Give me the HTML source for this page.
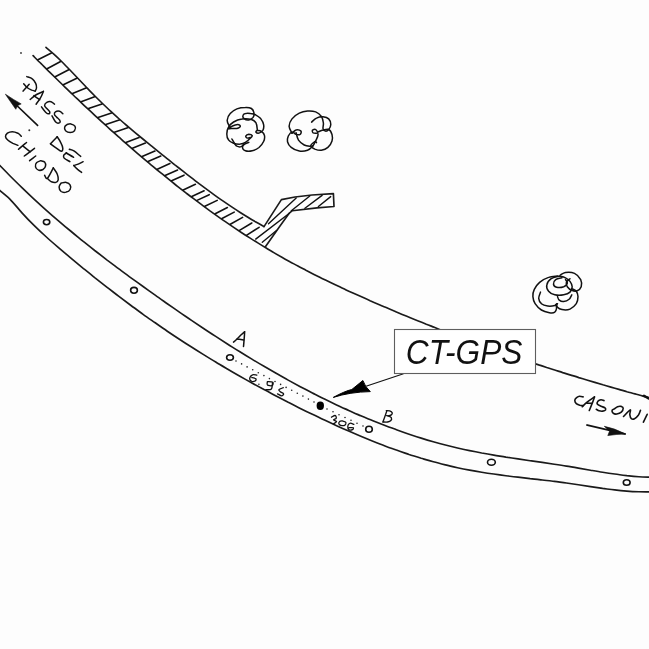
<!DOCTYPE html>
<html><head><meta charset="utf-8"><style>
html,body{margin:0;padding:0;background:#fdfdfd;}
svg{display:block;filter:grayscale(1);}
</style></head><body>
<svg width="649" height="649" viewBox="0 0 649 649">
<rect width="649" height="649" fill="#fdfdfd"/>
<path d="M-2.0,163.5 C0.0,165.6 6.1,171.9 10.1,176.0 C14.1,180.0 18.2,184.0 22.2,187.9 C26.2,191.8 30.2,195.6 34.3,199.3 C38.3,203.0 42.3,206.7 46.4,210.3 C50.4,213.9 54.4,217.4 58.5,220.8 C62.5,224.3 66.5,227.7 70.6,231.0 C74.6,234.4 78.6,237.6 82.6,240.9 C86.7,244.1 90.7,247.3 94.7,250.5 C98.8,253.6 102.8,256.7 106.8,259.8 C110.9,262.8 114.9,265.9 118.9,268.9 C123.0,271.9 127.0,274.8 131.0,277.8 C135.0,280.7 139.1,283.6 143.1,286.5 C147.1,289.4 151.2,292.3 155.2,295.2 C159.2,298.1 163.3,300.9 167.3,303.7 C171.3,306.5 175.4,309.3 179.4,312.1 C183.4,314.9 187.5,317.6 191.5,320.4 C195.5,323.1 199.5,325.8 203.6,328.5 C207.6,331.1 211.6,333.8 215.7,336.4 C219.7,339.0 223.7,341.6 227.8,344.2 C231.8,346.7 235.8,349.3 239.9,351.8 C243.9,354.2 247.9,356.7 251.9,359.1 C256.0,361.6 260.0,364.0 264.0,366.3 C268.1,368.7 272.1,371.0 276.1,373.3 C280.2,375.6 284.2,377.9 288.2,380.1 C292.3,382.3 296.3,384.5 300.3,386.7 C304.3,388.8 308.4,390.9 312.4,393.0 C316.4,395.0 320.5,397.1 324.5,399.0 C328.5,401.0 332.6,403.0 336.6,404.9 C340.6,406.8 344.7,408.6 348.7,410.4 C352.7,412.3 356.7,414.0 360.8,415.8 C364.8,417.5 368.8,419.2 372.9,420.8 C376.9,422.4 380.9,424.0 385.0,425.6 C389.0,427.1 393.0,428.6 397.1,430.0 C401.1,431.5 405.1,432.9 409.1,434.2 C413.2,435.6 417.2,436.9 421.2,438.1 C425.3,439.4 429.3,440.6 433.3,441.7 C437.4,442.9 441.4,444.0 445.4,445.0 C449.5,446.0 453.5,447.0 457.5,448.0 C461.5,448.9 465.6,449.8 469.6,450.6 C473.6,451.4 477.7,452.2 481.7,453.0 C485.7,453.7 489.8,454.4 493.8,455.1 C497.8,455.8 501.9,456.4 505.9,457.1 C509.9,457.7 514.0,458.3 518.0,458.9 C522.0,459.5 526.0,460.1 530.1,460.7 C534.1,461.3 538.1,461.8 542.2,462.4 C546.2,463.0 550.2,463.6 554.3,464.2 C558.3,464.8 562.3,465.4 566.4,466.1 C570.4,466.7 574.4,467.4 578.4,468.1 C582.5,468.8 586.5,469.5 590.5,470.2 C594.6,470.9 598.6,471.6 602.6,472.2 C606.7,472.9 610.7,473.5 614.7,474.0 C618.8,474.6 622.8,475.1 626.8,475.6 C630.8,476.0 634.9,476.4 638.9,476.7 C642.9,477.0 649.0,477.1 651.0,477.2" fill="none" stroke="#1a1a1a" stroke-width="1.65" stroke-linecap="round" stroke-linejoin="round"/>
<path d="M-2.0,189.0 C0.0,190.7 6.1,195.3 10.1,199.3 C14.1,203.3 18.2,208.7 22.2,213.1 C26.2,217.5 30.2,221.7 34.3,225.7 C38.3,229.7 42.3,233.4 46.4,237.0 C50.4,240.7 54.4,244.1 58.5,247.6 C62.5,251.0 66.5,254.4 70.6,257.8 C74.6,261.1 78.6,264.5 82.6,267.8 C86.7,271.1 90.7,274.3 94.7,277.6 C98.8,280.8 102.8,284.0 106.8,287.1 C110.9,290.2 114.9,293.4 118.9,296.4 C123.0,299.5 127.0,302.5 131.0,305.5 C135.0,308.5 139.1,311.4 143.1,314.3 C147.1,317.2 151.2,320.0 155.2,322.8 C159.2,325.7 163.3,328.4 167.3,331.2 C171.3,333.9 175.4,336.6 179.4,339.2 C183.4,341.9 187.5,344.5 191.5,347.0 C195.5,349.6 199.5,352.1 203.6,354.6 C207.6,357.1 211.6,359.6 215.7,362.0 C219.7,364.5 223.7,366.8 227.8,369.2 C231.8,371.6 235.8,373.9 239.9,376.2 C243.9,378.5 247.9,380.7 251.9,383.0 C256.0,385.2 260.0,387.4 264.0,389.6 C268.1,391.7 272.1,393.9 276.1,396.0 C280.2,398.1 284.2,400.2 288.2,402.3 C292.3,404.3 296.3,406.4 300.3,408.4 C304.3,410.4 308.4,412.4 312.4,414.3 C316.4,416.3 320.5,418.2 324.5,420.1 C328.5,422.0 332.6,423.9 336.6,425.7 C340.6,427.5 344.7,429.3 348.7,431.1 C352.7,432.9 356.7,434.6 360.8,436.3 C364.8,438.0 368.8,439.6 372.9,441.2 C376.9,442.8 380.9,444.4 385.0,445.9 C389.0,447.4 393.0,448.9 397.1,450.3 C401.1,451.8 405.1,453.1 409.1,454.5 C413.2,455.8 417.2,457.0 421.2,458.3 C425.3,459.5 429.3,460.7 433.3,461.8 C437.4,462.9 441.4,463.9 445.4,464.9 C449.5,465.9 453.5,466.8 457.5,467.7 C461.5,468.6 465.6,469.4 469.6,470.1 C473.6,470.9 477.7,471.6 481.7,472.2 C485.7,472.9 489.8,473.5 493.8,474.0 C497.8,474.6 501.9,475.1 505.9,475.7 C509.9,476.2 514.0,476.7 518.0,477.1 C522.0,477.6 526.0,478.1 530.1,478.6 C534.1,479.0 538.1,479.5 542.2,480.0 C546.2,480.4 550.2,480.9 554.3,481.4 C558.3,481.9 562.3,482.5 566.4,483.0 C570.4,483.6 574.4,484.2 578.4,484.8 C582.5,485.4 586.5,486.0 590.5,486.6 C594.6,487.2 598.6,487.8 602.6,488.4 C606.7,488.9 610.7,489.5 614.7,489.9 C618.8,490.4 622.8,490.8 626.8,491.1 C630.8,491.5 634.9,491.7 638.9,491.8 C642.9,492.0 649.0,491.9 651.0,491.9" fill="none" stroke="#1a1a1a" stroke-width="1.65" stroke-linecap="round" stroke-linejoin="round"/>
<path d="M46.0,47.4 C47.3,48.5 51.4,51.8 54.1,54.3 C56.8,56.7 59.5,59.3 62.1,62.0 C64.8,64.7 67.5,67.5 70.2,70.3 C72.9,73.1 75.6,76.0 78.3,78.8 C81.0,81.6 83.7,84.5 86.4,87.3 C89.1,90.0 91.8,92.8 94.4,95.5 C97.1,98.2 99.8,100.9 102.5,103.5 C105.2,106.1 107.9,108.7 110.6,111.1 C113.3,113.6 116.0,116.1 118.7,118.5 C121.4,120.9 124.0,123.2 126.7,125.5 C129.4,127.8 132.1,130.1 134.8,132.4 C137.5,134.6 140.2,136.8 142.9,139.0 C145.6,141.2 148.3,143.4 151.0,145.6 C153.7,147.8 156.3,150.0 159.0,152.1 C161.7,154.3 164.4,156.5 167.1,158.6 C169.8,160.8 172.5,162.9 175.2,165.1 C177.9,167.2 180.6,169.3 183.3,171.4 C186.0,173.5 188.6,175.6 191.3,177.7 C194.0,179.8 196.7,181.8 199.4,183.9 C202.1,185.9 204.8,187.9 207.5,189.9 C210.2,191.9 212.9,193.8 215.6,195.8 C218.2,197.7 220.9,199.6 223.6,201.4 C226.3,203.3 229.0,205.1 231.7,206.9 C234.4,208.7 237.1,210.5 239.8,212.2 C242.5,213.9 245.2,215.6 247.9,217.2 C250.5,218.9 253.2,220.5 255.9,222.0 C258.6,223.6 262.7,225.8 264.0,226.5" fill="none" stroke="#1a1a1a" stroke-width="1.65" stroke-linecap="round" stroke-linejoin="round"/>
<path d="M33.1,55.7 C34.4,57.0 38.4,61.1 41.1,63.7 C43.8,66.4 46.5,69.0 49.1,71.7 C51.8,74.3 54.5,76.9 57.2,79.5 C59.8,82.1 62.5,84.7 65.2,87.3 C67.9,89.9 70.5,92.5 73.2,95.0 C75.9,97.6 78.6,100.1 81.2,102.6 C83.9,105.2 86.6,107.7 89.3,110.2 C91.9,112.7 94.6,115.1 97.3,117.6 C100.0,120.1 102.6,122.5 105.3,124.9 C108.0,127.4 110.7,129.8 113.3,132.2 C116.0,134.6 118.7,137.0 121.4,139.3 C124.0,141.7 126.7,144.0 129.4,146.4 C132.1,148.7 134.7,151.0 137.4,153.3 C140.1,155.6 142.8,157.9 145.4,160.1 C148.1,162.4 150.8,164.6 153.5,166.8 C156.1,169.1 158.8,171.3 161.5,173.4 C164.2,175.6 166.8,177.8 169.5,179.9 C172.2,182.1 174.9,184.2 177.5,186.3 C180.2,188.4 182.9,190.5 185.6,192.6 C188.2,194.6 190.9,196.7 193.6,198.7 C196.3,200.7 198.9,202.7 201.6,204.7 C204.3,206.7 207.0,208.6 209.6,210.6 C212.3,212.5 215.0,214.4 217.7,216.3 C220.3,218.2 223.0,220.1 225.7,221.9 C228.4,223.8 231.0,225.6 233.7,227.4 C236.4,229.2 239.1,231.0 241.7,232.7 C244.4,234.5 247.1,236.2 249.8,237.9 C252.4,239.6 255.1,241.3 257.8,242.9 C260.5,244.6 263.1,246.2 265.8,247.8 C268.5,249.5 271.2,251.0 273.8,252.6 C276.5,254.2 279.2,255.7 281.9,257.2 C284.5,258.7 287.2,260.2 289.9,261.7 C292.6,263.1 295.2,264.6 297.9,266.0 C300.6,267.5 303.3,268.9 305.9,270.3 C308.6,271.6 311.3,273.0 314.0,274.4 C316.6,275.7 319.3,277.1 322.0,278.4 C324.7,279.7 327.3,281.0 330.0,282.3 C332.7,283.6 335.4,284.9 338.0,286.1 C340.7,287.4 343.4,288.6 346.1,289.9 C348.7,291.1 351.4,292.3 354.1,293.5 C356.8,294.7 359.4,295.9 362.1,297.1 C364.8,298.3 367.5,299.5 370.1,300.7 C372.8,301.8 375.5,303.0 378.2,304.2 C380.8,305.3 383.5,306.5 386.2,307.6 C388.9,308.8 391.5,309.9 394.2,311.0 C396.9,312.1 399.6,313.3 402.2,314.4 C404.9,315.5 407.6,316.6 410.3,317.7 C412.9,318.8 415.6,319.9 418.3,320.9 C421.0,322.0 423.6,323.1 426.3,324.2 C429.0,325.2 431.7,326.3 434.3,327.3 C437.0,328.4 439.7,329.4 442.4,330.5 C445.0,331.5 447.7,332.5 450.4,333.6 C453.1,334.6 455.7,335.6 458.4,336.6 C461.1,337.6 463.8,338.6 466.4,339.6 C469.1,340.6 471.8,341.6 474.5,342.6 C477.1,343.6 479.8,344.5 482.5,345.5 C485.2,346.5 487.8,347.4 490.5,348.4 C493.2,349.3 495.9,350.3 498.5,351.2 C501.2,352.2 503.9,353.1 506.6,354.0 C509.2,355.0 511.9,355.9 514.6,356.8 C517.3,357.7 519.9,358.6 522.6,359.5 C525.3,360.4 528.0,361.3 530.6,362.2 C533.3,363.1 536.0,364.0 538.7,364.9 C541.3,365.7 544.0,366.6 546.7,367.5 C549.4,368.3 552.0,369.2 554.7,370.0 C557.4,370.9 560.1,371.7 562.7,372.6 C565.4,373.4 568.1,374.3 570.8,375.1 C573.4,375.9 576.1,376.7 578.8,377.6 C581.5,378.4 584.1,379.2 586.8,380.0 C589.5,380.8 592.2,381.6 594.8,382.4 C597.5,383.2 600.2,384.0 602.9,384.8 C605.5,385.5 608.2,386.3 610.9,387.1 C613.6,387.9 616.2,388.6 618.9,389.4 C621.6,390.2 624.3,390.9 626.9,391.7 C629.6,392.4 632.3,393.2 635.0,393.9 C637.6,394.6 640.3,395.4 643.0,396.1 C645.7,396.8 649.7,397.9 651.0,398.3" fill="none" stroke="#1a1a1a" stroke-width="1.65" stroke-linecap="round" stroke-linejoin="round"/>
<path d="M264.0,226.6 L281.4,199.6 L295.0,197.0 L312.0,195.0 L333.4,193.6 L334.0,206.5 L317.0,207.9 L292.4,210.7 L289.0,213.4 L280.0,226.0 L265.4,246.7" fill="none" stroke="#1a1a1a" stroke-width="1.65" stroke-linecap="round" stroke-linejoin="round"/>
<path d="M37.9,59.7 L51.4,53.0 M47.1,68.8 L60.6,61.5 M55.2,76.8 L68.7,69.7 M63.3,84.7 L76.8,78.2 M72.5,93.5 L86.0,87.9 M81.1,101.7 L94.6,96.7 M88.5,108.6 L102.0,104.0 M98.0,117.4 L111.5,113.0 M105.8,124.6 L119.2,120.1 M114.4,132.3 L127.7,127.8 M125.9,142.5 L139.0,137.6 M132.4,148.2 L145.4,143.1 M142.1,156.5 L154.9,151.1 M148.0,161.5 L160.8,156.0 M157.3,169.2 L169.9,163.6 M165.1,175.6 L177.6,170.0 M171.6,180.8 L184.0,175.2 M183.2,189.9 L195.4,184.3 M191.8,196.5 L204.1,190.8 M197.0,200.4 L209.2,194.7 M204.9,206.3 L217.2,200.4 M215.2,213.7 L227.4,207.5 M222.0,218.5 L234.2,212.1 M230.3,224.2 L242.6,217.4 M239.5,230.4 L251.8,223.0 M246.8,235.2 L259.1,227.3" fill="none" stroke="#111" stroke-width="1.6" stroke-linecap="round"/>
<path d="M262.3,242.3 L276.5,230.5 M255.7,239.1 L289.4,213.3 M268.5,223.8 L296.2,197.9 M291.3,210.8 L309.8,196.0 M304.9,208.3 L322.1,195.4 M318.4,206.5 L330.7,196.6" fill="none" stroke="#111" stroke-width="1.4" stroke-linecap="round"/>
<ellipse cx="46.6" cy="222.1" rx="3.2" ry="2.6" fill="none" stroke="#111" stroke-width="1.6"/>
<ellipse cx="134.0" cy="290.3" rx="3.4" ry="2.9" fill="none" stroke="#111" stroke-width="1.6"/>
<ellipse cx="491.4" cy="462.3" rx="3.9" ry="3.0" fill="none" stroke="#111" stroke-width="1.6"/>
<ellipse cx="626.7" cy="482.5" rx="3.4" ry="2.8" fill="none" stroke="#111" stroke-width="1.6"/>
<ellipse cx="230.0" cy="357.5" rx="3.4" ry="2.7" fill="none" stroke="#111" stroke-width="1.6"/>
<ellipse cx="369.0" cy="429.2" rx="3.3" ry="3.0" fill="none" stroke="#111" stroke-width="1.6"/>
<ellipse cx="320.3" cy="405.8" rx="3.7" ry="4.2" fill="#000"/>
<circle cx="236.0" cy="361.0" r="0.8" fill="#222"/>
<circle cx="241.6" cy="363.9" r="0.8" fill="#222"/>
<circle cx="247.1" cy="366.9" r="0.8" fill="#222"/>
<circle cx="252.7" cy="369.8" r="0.8" fill="#222"/>
<circle cx="258.3" cy="372.7" r="0.8" fill="#222"/>
<circle cx="263.9" cy="375.6" r="0.8" fill="#222"/>
<circle cx="269.4" cy="378.6" r="0.8" fill="#222"/>
<circle cx="275.0" cy="381.5" r="0.8" fill="#222"/>
<circle cx="280.6" cy="384.4" r="0.8" fill="#222"/>
<circle cx="286.1" cy="387.4" r="0.8" fill="#222"/>
<circle cx="291.7" cy="390.3" r="0.8" fill="#222"/>
<circle cx="297.3" cy="393.2" r="0.8" fill="#222"/>
<circle cx="302.9" cy="396.1" r="0.8" fill="#222"/>
<circle cx="308.4" cy="399.1" r="0.8" fill="#222"/>
<circle cx="314.0" cy="402.0" r="0.8" fill="#222"/>
<circle cx="327.0" cy="409.0" r="0.8" fill="#222"/>
<circle cx="333.0" cy="411.8" r="0.8" fill="#222"/>
<circle cx="339.0" cy="414.7" r="0.8" fill="#222"/>
<circle cx="345.0" cy="417.5" r="0.8" fill="#222"/>
<circle cx="351.0" cy="420.3" r="0.8" fill="#222"/>
<circle cx="357.0" cy="423.2" r="0.8" fill="#222"/>
<circle cx="363.0" cy="426.0" r="0.8" fill="#222"/>
<path d="M333.3,397.4 Q345,391 351.8,389.5 L362.9,380.5 Q365,387 370.3,391.6 Q350,392 333.3,397.4 Z" fill="#000" stroke="#000" stroke-width="1"/>
<path d="M366,386.3 L403.5,373.7" stroke="#111" stroke-width="1.2"/>
<path d="M229.3,126.3 C229.0,125.3 227.1,122.5 227.2,120.3 C227.3,118.2 228.5,115.5 230.2,113.6 C231.8,111.7 234.4,109.9 236.9,108.9 C239.5,107.9 243.0,107.5 245.4,107.5 C247.8,107.4 249.9,107.6 251.4,108.5 C252.8,109.4 253.6,111.2 253.9,112.7 C254.2,114.2 253.9,116.2 253.1,117.4 C252.2,118.6 250.3,119.7 248.8,119.9 C247.3,120.1 245.1,119.4 244.2,118.6 C243.2,117.9 242.7,116.5 242.9,115.7 C243.1,114.8 244.2,113.9 245.4,113.6 C246.7,113.2 248.8,113.3 250.5,113.6 C252.2,113.8 253.9,114.0 255.6,114.8 C257.3,115.7 259.3,117.0 260.7,118.6 C262.0,120.3 263.3,122.6 263.6,124.6 C264.0,126.6 263.6,129.1 262.8,130.5 C262.0,131.9 260.1,132.8 259.0,133.1 C257.9,133.3 256.3,132.6 256.0,132.2 C255.7,131.8 256.4,130.6 257.3,130.5 C258.2,130.4 260.3,130.5 261.5,131.4 C262.7,132.2 264.1,133.9 264.5,135.6 C264.8,137.3 264.6,139.5 263.6,141.5 C262.7,143.5 260.9,145.9 259.0,147.5 C257.1,149.0 254.5,150.3 252.2,150.8 C249.9,151.4 247.0,151.4 245.4,150.8 C243.8,150.3 242.6,148.6 242.5,147.5 C242.3,146.3 243.5,144.9 244.6,144.1 C245.6,143.2 248.1,142.7 248.8,142.4" fill="none" stroke="#111" stroke-width="1.5" stroke-linecap="round"/>
<path d="M257.3,129.7 C257.1,128.5 257.0,124.6 256.0,122.9 C255.0,121.2 253.7,120.1 251.4,119.5 C249.0,118.9 245.0,118.6 242.0,119.1 C239.1,119.5 235.8,120.7 233.6,122.0 C231.3,123.4 229.6,125.1 228.5,127.1 C227.3,129.1 226.8,131.8 226.8,133.9 C226.8,136.0 227.3,138.3 228.5,139.8 C229.6,141.4 231.6,142.5 233.6,143.2 C235.5,143.9 238.4,144.2 240.3,144.1 C242.3,143.9 243.7,143.4 245.4,142.4 C247.1,141.4 249.4,139.3 250.5,138.1 C251.6,137.0 252.5,136.2 252.2,135.6 C251.9,135.0 249.9,134.3 248.8,134.3 C247.8,134.4 246.1,135.4 245.8,136.0 C245.6,136.7 246.2,137.9 247.1,138.1 C248.0,138.3 250.6,137.4 251.4,137.3" fill="none" stroke="#111" stroke-width="1.5" stroke-linecap="round"/>
<path d="M228.5,128.8 C229.0,128.4 230.3,127.0 231.9,126.3 C233.4,125.6 236.4,124.6 237.8,124.6 C239.2,124.6 240.5,125.6 240.3,126.3 C240.2,126.9 238.5,128.0 236.9,128.4 C235.4,128.7 232.4,128.3 231.0,128.4 C229.6,128.5 228.9,128.7 228.5,128.8" fill="none" stroke="#111" stroke-width="1.5" stroke-linecap="round"/>
<path d="M231.9,139.0 C232.3,139.7 233.6,142.0 234.4,143.2 C235.3,144.4 235.8,145.6 236.9,146.2 C238.1,146.8 240.1,147.0 241.2,146.6 C242.3,146.3 243.3,144.5 243.7,144.1" fill="none" stroke="#111" stroke-width="1.5" stroke-linecap="round"/>
<path d="M292.0,133.2 C291.5,132.0 289.1,128.6 289.1,126.2 C289.1,123.8 290.3,121.1 292.0,118.9 C293.7,116.7 296.7,114.5 299.3,113.2 C301.9,111.9 304.8,111.3 307.5,111.1 C310.2,110.9 313.3,111.1 315.7,111.9 C318.0,112.8 320.1,114.6 321.4,116.4 C322.7,118.3 323.1,120.9 323.4,123.0 C323.7,125.0 322.7,127.3 323.0,128.7 C323.3,130.0 324.5,131.0 325.4,131.1 C326.4,131.3 327.8,130.6 328.7,129.5 C329.6,128.4 330.8,126.4 330.8,124.6 C330.8,122.8 330.0,120.2 328.7,118.9 C327.4,117.6 325.0,117.0 323.0,116.8 C321.0,116.7 318.4,117.2 316.5,118.1 C314.6,118.9 312.4,121.5 311.6,122.1" fill="none" stroke="#111" stroke-width="1.5" stroke-linecap="round"/>
<path d="M292.0,133.2 C292.7,132.6 294.6,130.2 296.1,129.9 C297.6,129.6 300.3,130.4 301.0,131.1 C301.6,131.9 301.0,133.8 300.1,134.4 C299.3,134.9 297.4,134.8 296.1,134.4 C294.7,134.0 293.3,131.7 292.0,131.9 C290.7,132.2 289.1,134.4 288.3,136.0 C287.6,137.7 287.0,139.8 287.5,141.7 C288.0,143.6 289.2,145.9 291.2,147.4 C293.1,149.0 296.6,150.6 299.3,151.1 C302.0,151.6 305.3,151.1 307.5,150.3 C309.7,149.6 311.0,148.2 312.4,146.6 C313.7,145.1 314.7,143.0 315.7,140.9 C316.6,138.9 318.1,136.3 318.1,134.4 C318.1,132.5 316.6,130.2 315.7,129.5 C314.7,128.8 312.8,129.8 312.4,130.3 C312.0,130.9 312.5,132.3 313.2,132.8 C313.9,133.2 315.9,133.1 316.5,133.2" fill="none" stroke="#111" stroke-width="1.5" stroke-linecap="round"/>
<path d="M296.1,132.8 C296.5,134.0 297.1,138.1 298.5,140.1 C299.9,142.1 302.3,144.0 304.2,145.0 C306.1,146.0 308.4,146.1 309.9,146.2 C311.4,146.4 312.7,145.9 313.2,145.8" fill="none" stroke="#111" stroke-width="1.5" stroke-linecap="round"/>
<path d="M318.1,131.9 C318.8,131.7 320.4,130.7 322.2,130.3 C324.0,129.9 327.1,128.8 328.7,129.5 C330.3,130.2 331.4,132.5 332.0,134.4 C332.5,136.3 332.7,138.7 332.0,140.9 C331.3,143.1 329.7,145.9 327.9,147.4 C326.1,149.0 323.5,150.0 321.4,150.3 C319.2,150.6 316.6,149.8 314.8,149.1 C313.1,148.3 310.8,147.0 310.8,145.8 C310.8,144.6 313.9,142.3 314.8,141.7 C315.8,141.2 316.2,142.4 316.5,142.6" fill="none" stroke="#111" stroke-width="1.5" stroke-linecap="round"/>
<path d="M557.5,276.0 C556.0,276.3 551.5,276.3 548.6,277.4 C545.6,278.4 542.0,280.3 539.6,282.3 C537.2,284.3 535.4,287.1 534.3,289.4 C533.1,291.8 532.8,294.2 532.9,296.6 C533.1,299.0 533.7,301.5 535.1,303.7 C536.6,306.0 539.0,308.5 541.4,310.0 C543.8,311.5 547.2,312.3 549.4,312.7 C551.7,313.1 553.6,313.0 554.8,312.2 C556.0,311.5 556.4,309.5 556.6,308.2 C556.7,306.9 555.9,305.2 555.7,304.6" fill="none" stroke="#111" stroke-width="1.5" stroke-linecap="round"/>
<path d="M540.5,292.1 C540.2,293.2 538.6,296.4 538.7,298.4 C538.9,300.3 539.9,302.5 541.4,303.7 C542.9,305.0 545.4,305.7 547.7,306.0 C549.9,306.3 553.2,305.9 554.8,305.5 C556.4,305.2 557.0,304.0 557.5,303.7" fill="none" stroke="#111" stroke-width="1.5" stroke-linecap="round"/>
<path d="M559.3,276.0 C557.9,276.5 553.3,277.2 551.2,278.7 C549.1,280.2 547.2,282.9 546.8,285.0 C546.3,287.1 547.2,289.6 548.6,291.2 C549.9,292.9 552.3,294.2 554.8,294.8 C557.3,295.4 561.2,295.3 563.7,294.8 C566.3,294.4 568.6,293.5 570.0,292.1 C571.4,290.8 572.2,288.6 572.2,286.8 C572.2,285.0 571.1,282.9 570.0,281.4 C568.9,279.9 567.3,278.7 565.5,277.8 C563.7,276.9 560.3,276.3 559.3,276.0" fill="none" stroke="#111" stroke-width="1.5" stroke-linecap="round"/>
<path d="M562.0,277.8 C560.9,278.1 557.1,278.6 555.7,279.6 C554.3,280.7 553.3,282.8 553.5,284.1 C553.6,285.4 554.9,286.8 556.6,287.2 C558.3,287.7 562.0,287.4 563.7,286.8 C565.5,286.1 567.0,284.4 567.3,283.2 C567.6,282.0 565.8,280.2 565.5,279.6" fill="none" stroke="#111" stroke-width="1.5" stroke-linecap="round"/>
<path d="M560.2,275.1 C561.1,274.7 563.2,272.8 565.5,272.5 C567.9,272.2 571.9,272.2 574.5,273.4 C577.0,274.6 579.6,277.4 580.7,279.6 C581.8,281.9 581.8,284.9 581.2,286.8 C580.6,288.6 578.7,290.2 577.2,290.8 C575.6,291.4 573.4,291.0 571.8,290.3 C570.2,289.7 568.2,288.1 567.3,286.8 C566.4,285.4 566.0,283.6 566.4,282.3 C566.9,281.0 569.4,279.3 570.0,278.7" fill="none" stroke="#111" stroke-width="1.5" stroke-linecap="round"/>
<path d="M556.6,303.7 C556.7,304.3 556.6,306.4 557.5,307.3 C558.4,308.3 559.9,309.3 562.0,309.6 C564.0,309.9 567.6,310.1 570.0,309.1 C572.4,308.1 574.9,305.8 576.3,303.7 C577.6,301.7 578.0,298.7 578.0,296.6 C578.0,294.5 577.3,292.6 576.3,291.2 C575.2,289.9 572.5,289.0 571.8,288.6" fill="none" stroke="#111" stroke-width="1.5" stroke-linecap="round"/>
<path d="M557.5,296.6 C557.8,297.2 558.2,299.4 559.3,300.2 C560.3,301.0 562.1,301.7 563.7,301.5 C565.4,301.4 567.8,300.4 569.1,299.3 C570.4,298.2 571.3,295.6 571.8,294.8" fill="none" stroke="#111" stroke-width="1.5" stroke-linecap="round"/>
<path d="M23.1,91.1 C24.1,90.0 28.2,85.5 29.2,84.3" fill="none" stroke="#111" stroke-width="1.5" stroke-linecap="round"/>
<path d="M23.7,83.7 C24.3,84.4 26.1,86.7 27.4,87.7 C28.7,88.8 30.4,89.5 31.7,90.1 C33.0,90.6 34.5,90.9 35.1,91.1" fill="none" stroke="#111" stroke-width="1.5" stroke-linecap="round"/>
<path d="M26.8,76.6 C27.7,77.0 30.8,77.6 32.3,78.8 C33.8,79.9 35.0,81.9 35.7,83.4 C36.4,84.9 36.6,86.7 36.5,88.0 C36.4,89.3 35.3,90.6 35.1,91.1" fill="none" stroke="#111" stroke-width="1.5" stroke-linecap="round"/>
<path d="M30.2,99.4 C31.2,98.6 34.4,95.8 36.6,94.5 C38.8,93.2 42.3,91.9 43.4,91.4" fill="none" stroke="#111" stroke-width="1.5" stroke-linecap="round"/>
<path d="M43.4,91.4 C42.9,92.5 41.6,96.1 40.3,98.2 C39.1,100.3 36.8,103.2 36.1,104.2" fill="none" stroke="#111" stroke-width="1.5" stroke-linecap="round"/>
<path d="M33.9,95.6 C34.8,96.3 38.7,99.0 39.7,99.7" fill="none" stroke="#111" stroke-width="1.5" stroke-linecap="round"/>
<path d="M54.5,104.2 C53.9,103.8 52.4,102.0 51.1,101.7 C49.8,101.4 47.9,101.7 46.8,102.3 C45.7,102.9 44.6,104.4 44.6,105.4 C44.6,106.4 46.0,107.5 46.8,108.5 C47.6,109.5 49.1,110.7 49.6,111.6 C50.0,112.4 49.8,113.5 49.2,113.7 C48.7,113.9 47.4,113.9 46.2,112.8 C44.9,111.7 42.3,107.9 41.5,106.9" fill="none" stroke="#111" stroke-width="1.5" stroke-linecap="round"/>
<path d="M62.8,113.7 C62.3,113.3 61.0,111.6 59.7,111.3 C58.5,110.9 56.3,111.3 55.4,111.9 C54.5,112.4 54.3,113.8 54.5,114.6 C54.7,115.5 55.8,116.2 56.6,117.1 C57.5,118.0 59.2,119.3 59.7,120.2 C60.2,121.1 60.3,122.3 59.7,122.7 C59.1,123.0 57.3,123.5 56.0,122.3 C54.7,121.2 52.7,117.0 52.0,115.9" fill="none" stroke="#111" stroke-width="1.5" stroke-linecap="round"/>
<path d="M67.1,124.5 C67.7,124.4 69.5,123.6 70.8,123.9 C72.2,124.2 74.5,125.2 75.1,126.4 C75.7,127.5 75.3,129.6 74.5,130.7 C73.7,131.7 71.7,132.5 70.2,132.5 C68.7,132.5 66.5,131.6 65.6,130.7 C64.7,129.7 64.4,128.0 64.7,127.0 C64.9,125.9 66.7,124.9 67.1,124.5" fill="none" stroke="#111" stroke-width="1.5" stroke-linecap="round"/>
<path d="M50.5,143.8 C51.6,142.6 56.1,137.9 57.2,136.7" fill="none" stroke="#111" stroke-width="1.5" stroke-linecap="round"/>
<path d="M57.2,136.7 C57.9,137.7 60.0,140.9 60.9,142.9 C61.9,144.8 62.7,147.0 62.8,148.4 C62.8,149.8 62.4,151.3 61.3,151.2 C60.1,151.1 57.8,149.0 56.0,147.8 C54.2,146.6 51.4,144.5 50.5,143.8" fill="none" stroke="#111" stroke-width="1.5" stroke-linecap="round"/>
<path d="M69.3,149.3 C70.0,149.6 72.0,149.7 73.9,150.9 C75.8,152.1 79.5,155.5 80.7,156.4" fill="none" stroke="#111" stroke-width="1.5" stroke-linecap="round"/>
<path d="M66.2,153.0 C67.4,153.7 72.3,156.6 73.6,157.3" fill="none" stroke="#111" stroke-width="1.5" stroke-linecap="round"/>
<path d="M66.5,152.7 C66.0,153.1 64.1,154.3 63.7,155.2 C63.4,156.1 63.3,157.2 64.3,158.3 C65.4,159.3 69.0,161.1 69.9,161.7" fill="none" stroke="#111" stroke-width="1.5" stroke-linecap="round"/>
<path d="M83.1,161.7 C82.3,162.1 79.8,163.5 78.2,164.1 C76.6,164.8 74.5,165.3 73.8,165.5" fill="none" stroke="#111" stroke-width="1.5" stroke-linecap="round"/>
<path d="M73.8,165.5 C74.4,166.2 76.3,168.2 77.6,169.4 C78.9,170.5 80.9,171.9 81.6,172.4" fill="none" stroke="#111" stroke-width="1.5" stroke-linecap="round"/>
<path d="M21.3,136.3 C20.7,135.8 19.4,134.0 17.9,133.2 C16.4,132.5 14.1,131.7 12.3,131.7 C10.6,131.7 8.5,132.4 7.4,133.2 C6.3,134.1 5.4,135.4 5.5,136.6 C5.6,137.8 6.8,139.2 8.0,140.3 C9.2,141.5 11.3,142.6 12.9,143.4 C14.6,144.2 17.1,144.9 17.9,145.3" fill="none" stroke="#111" stroke-width="1.5" stroke-linecap="round"/>
<path d="M18.5,149.3 C19.8,148.1 25.2,143.6 26.5,142.5" fill="none" stroke="#111" stroke-width="1.5" stroke-linecap="round"/>
<path d="M22.8,145.9 C24.0,146.8 29.0,150.8 30.2,151.7" fill="none" stroke="#111" stroke-width="1.5" stroke-linecap="round"/>
<path d="M24.3,156.0 C26.0,154.8 32.8,149.6 34.5,148.3" fill="none" stroke="#111" stroke-width="1.5" stroke-linecap="round"/>
<path d="M29.6,160.7 C30.6,159.9 34.7,156.8 35.7,156.0" fill="none" stroke="#111" stroke-width="1.5" stroke-linecap="round"/>
<path d="M40.7,160.7 C41.3,161.0 43.8,161.1 44.6,162.0 C45.4,162.9 45.8,165.0 45.5,166.2 C45.3,167.5 44.1,168.8 42.9,169.5 C41.8,170.1 39.7,170.6 38.4,170.1 C37.2,169.7 35.8,168.1 35.5,166.9 C35.2,165.6 35.6,163.7 36.5,162.7 C37.3,161.7 40.0,161.1 40.7,160.7" fill="none" stroke="#111" stroke-width="1.5" stroke-linecap="round"/>
<path d="M44.6,175.3 C45.0,175.8 46.0,179.5 47.5,178.2 C48.9,177.0 52.3,169.6 53.3,167.9" fill="none" stroke="#111" stroke-width="1.5" stroke-linecap="round"/>
<path d="M53.3,167.9 C53.9,168.9 56.4,172.0 57.2,174.0 C58.0,176.0 58.4,178.4 58.2,179.8 C57.9,181.2 57.0,182.1 55.9,182.4 C54.8,182.7 52.8,182.4 51.4,181.8 C50.0,181.1 48.1,179.1 47.5,178.5" fill="none" stroke="#111" stroke-width="1.5" stroke-linecap="round"/>
<path d="M61.1,183.1 C61.9,183.0 64.7,182.1 66.2,182.4 C67.8,182.7 69.5,183.8 70.1,185.0 C70.8,186.2 70.8,188.4 70.1,189.5 C69.5,190.7 67.8,191.8 66.2,192.1 C64.7,192.5 62.3,192.3 61.1,191.5 C59.9,190.6 59.1,188.4 59.1,187.0 C59.1,185.5 60.7,183.7 61.1,183.1" fill="none" stroke="#111" stroke-width="1.5" stroke-linecap="round"/>
<path d="M583.1,396.9 C582.5,396.8 580.5,396.2 579.4,396.3 C578.3,396.5 577.1,397.1 576.3,397.9 C575.5,398.6 574.8,399.7 574.8,400.6 C574.8,401.6 575.4,402.9 576.3,403.7 C577.2,404.5 578.9,404.9 580.0,405.3 C581.1,405.6 582.6,405.5 583.1,405.6" fill="none" stroke="#111" stroke-width="1.6" stroke-linecap="round"/>
<path d="M582.2,406.8 C583.0,406.0 585.4,403.5 587.4,401.9 C589.5,400.2 593.3,397.8 594.5,396.9" fill="none" stroke="#111" stroke-width="1.6" stroke-linecap="round"/>
<path d="M594.5,396.9 C594.1,398.0 593.2,400.8 592.3,403.1 C591.5,405.4 589.8,409.3 589.3,410.5" fill="none" stroke="#111" stroke-width="1.6" stroke-linecap="round"/>
<path d="M586.8,403.1 C587.6,403.1 590.9,403.4 591.7,403.4" fill="none" stroke="#111" stroke-width="1.6" stroke-linecap="round"/>
<path d="M604.0,400.6 C603.5,400.5 602.0,399.6 601.0,399.7 C599.9,399.8 598.5,400.5 597.9,401.2 C597.3,402.0 596.8,403.2 597.3,404.0 C597.8,404.8 599.7,405.6 601.0,406.2 C602.2,406.8 603.9,407.1 604.7,407.7 C605.4,408.3 605.9,409.3 605.6,409.9 C605.3,410.4 603.9,411.0 602.8,411.1 C601.7,411.3 600.2,411.1 599.1,410.8 C598.0,410.5 596.8,409.5 596.3,409.3" fill="none" stroke="#111" stroke-width="1.6" stroke-linecap="round"/>
<path d="M614.3,408.9 C614.8,408.6 616.3,407.2 617.5,406.7 C618.6,406.3 620.3,406.2 621.3,406.4 C622.2,406.7 623.2,407.4 623.2,408.3 C623.2,409.3 622.3,411.2 621.3,412.1 C620.2,413.1 618.2,413.8 616.8,414.0 C615.5,414.2 613.8,413.7 613.1,413.1 C612.3,412.4 611.9,410.9 612.1,410.2 C612.3,409.5 613.9,409.2 614.3,408.9" fill="none" stroke="#111" stroke-width="1.6" stroke-linecap="round"/>
<path d="M623.5,416.5 C624.6,415.4 629.1,410.2 630.1,409.9 C631.2,409.6 629.6,413.2 629.8,414.6 C630.0,416.1 630.6,418.1 631.4,418.7 C632.2,419.4 633.4,419.3 634.5,418.7 C635.7,418.2 637.3,416.7 638.3,415.3 C639.3,413.8 640.2,411.1 640.5,410.2" fill="none" stroke="#111" stroke-width="1.6" stroke-linecap="round"/>
<path d="M647.2,414.3 C646.5,415.6 644.0,420.9 643.4,422.2" fill="none" stroke="#111" stroke-width="1.6" stroke-linecap="round"/>
<path d="M233.5,342.1 C234.2,341.5 236.0,339.9 237.2,338.7 C238.5,337.6 239.7,336.2 240.9,335.0 C242.2,333.9 244.0,332.3 244.6,331.7" fill="none" stroke="#111" stroke-width="1.5" stroke-linecap="round"/>
<path d="M244.6,331.7 C244.6,332.6 244.5,334.8 244.3,337.2 C244.1,339.7 243.7,345.0 243.5,346.5" fill="none" stroke="#111" stroke-width="1.5" stroke-linecap="round"/>
<path d="M237.2,338.9 C238.3,339.1 242.5,339.8 243.5,340.0" fill="none" stroke="#111" stroke-width="1.5" stroke-linecap="round"/>
<path d="M386.9,410.6 C386.3,412.5 383.6,420.1 382.9,422.0" fill="none" stroke="#111" stroke-width="1.4" stroke-linecap="round"/>
<path d="M386.3,410.6 C386.9,410.7 388.7,410.6 389.7,410.9 C390.7,411.3 391.9,412.1 392.2,412.8 C392.4,413.4 391.9,414.4 391.3,414.9 C390.6,415.5 388.9,415.8 388.2,415.9 C387.4,416.0 386.9,415.6 386.6,415.6" fill="none" stroke="#111" stroke-width="1.4" stroke-linecap="round"/>
<path d="M388.2,415.9 C388.7,416.2 390.8,416.9 391.3,417.7 C391.7,418.5 391.6,419.8 390.9,420.5 C390.3,421.2 388.8,421.8 387.6,422.0 C386.3,422.3 384.0,422.0 383.2,422.0" fill="none" stroke="#111" stroke-width="1.4" stroke-linecap="round"/>
<path d="M256.9,375.1 C256.1,375.1 253.6,374.3 252.5,374.8 C251.3,375.3 249.9,377.1 249.7,378.2 C249.6,379.2 250.5,380.8 251.4,381.2 C252.3,381.7 254.4,381.3 255.2,380.9 C255.9,380.5 256.4,379.4 255.8,378.8 C255.3,378.3 252.5,377.7 251.8,377.5" fill="none" stroke="#111" stroke-width="1.3" stroke-linecap="round"/>
<path d="M267.4,381.6 C268.3,381.7 272.0,381.6 272.8,382.2 C273.6,382.9 273.0,385.2 272.1,385.6 C271.2,386.1 268.2,385.6 267.4,384.9 C266.6,384.3 267.4,382.1 267.4,381.6" fill="none" stroke="#111" stroke-width="1.3" stroke-linecap="round"/>
<path d="M272.5,382.6 C272.3,383.6 272.5,387.8 271.4,389.0 C270.4,390.2 266.9,389.6 266.0,389.7" fill="none" stroke="#111" stroke-width="1.3" stroke-linecap="round"/>
<path d="M283.3,387.7 C282.6,388.0 279.4,389.0 278.9,389.7 C278.4,390.4 279.5,391.1 280.3,391.7 C281.0,392.4 283.4,393.1 283.6,393.8 C283.9,394.4 282.6,395.8 281.6,395.8 C280.6,395.8 278.2,394.1 277.5,393.8" fill="none" stroke="#111" stroke-width="1.3" stroke-linecap="round"/>
<circle cx="258.9" cy="384.3" r="0.8" fill="#222"/>
<path d="M331.5,417.2 C332.1,416.9 334.4,415.3 335.2,415.5 C336.0,415.6 336.5,417.4 336.2,418.2 C336.0,418.9 333.5,419.3 333.5,419.9 C333.6,420.4 336.6,420.9 336.6,421.6 C336.6,422.2 334.0,423.5 333.5,423.9" fill="none" stroke="#111" stroke-width="1.3" stroke-linecap="round"/>
<path d="M342.3,420.9 C342.9,421.1 345.3,421.6 345.7,422.2 C346.2,422.9 345.7,424.4 345.1,424.9 C344.4,425.5 342.7,425.8 341.7,425.6 C340.6,425.5 339.3,424.6 338.9,423.9 C338.6,423.3 339.1,422.1 339.6,421.6 C340.2,421.1 341.9,421.0 342.3,420.9" fill="none" stroke="#111" stroke-width="1.3" stroke-linecap="round"/>
<path d="M353.9,424.3 C353.2,424.1 350.8,422.9 349.8,423.3 C348.8,423.6 347.9,425.2 347.8,426.3 C347.6,427.4 348.3,429.1 349.1,429.7 C349.9,430.3 351.8,430.0 352.5,429.7 C353.2,429.4 353.8,428.0 353.2,427.7 C352.6,427.3 349.8,427.7 349.1,427.7" fill="none" stroke="#111" stroke-width="1.3" stroke-linecap="round"/>
<circle cx="21" cy="53" r="0.9" fill="#333"/>
<circle cx="29.3" cy="130.3" r="1" fill="#333"/>
<path d="M644,395.8 L649,398.6" stroke="#111" stroke-width="2.4" stroke-linecap="round"/>
<path d="M38.1,125.8 L10,99" stroke="#111" stroke-width="1.6"/>
<path d="M5.4,94.2 Q14,100 21.2,103.9 L17.6,105.6 L15.8,109.3 Q10,101 5.4,94.2 Z" fill="#111" stroke="#111" stroke-width="0.6" stroke-linejoin="round"/>
<path d="M586.3,424.9 L625.7,434.1" stroke="#111" stroke-width="1.6"/>
<path d="M625.7,434.1 Q614,428 604.3,426.3 L609.5,431.2 L607.8,435.6 Q617,434 625.7,434.1 Z" fill="#111" stroke="#111" stroke-width="0.6" stroke-linejoin="round"/>
<rect x="394.5" y="329.5" width="141" height="44" fill="#fff" stroke="#5e5e5e" stroke-width="1.1"/>
<text x="0" y="0" transform="translate(405.8 363.6) scale(0.925 1)" font-family="Liberation Sans, sans-serif" font-style="italic" font-size="34.2" fill="#111">CT-GPS</text>
</svg></body></html>
